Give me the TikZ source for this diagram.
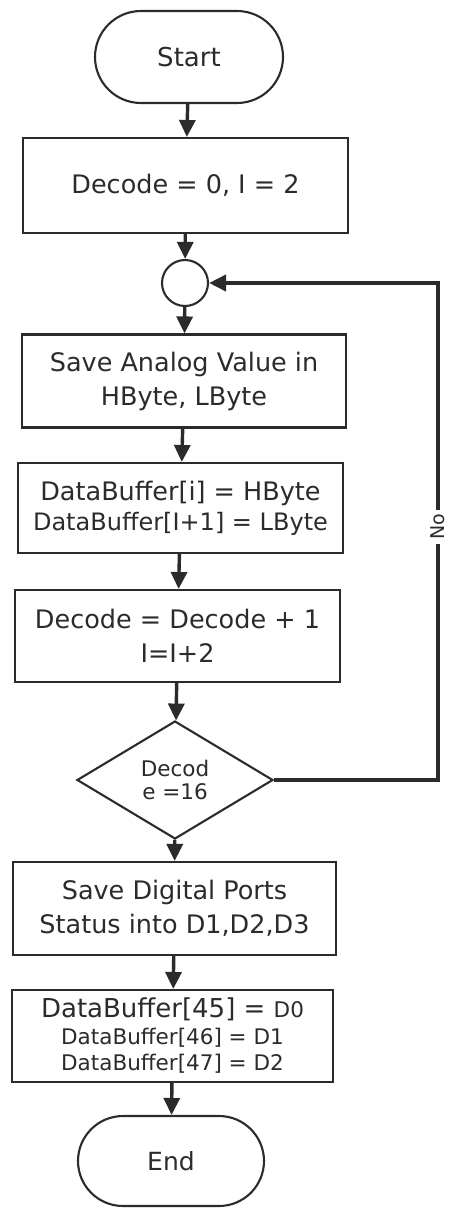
\documentclass[tikz,border=0pt]{standalone}
\usepackage{fontspec}
\setmainfont{DejaVu Sans}
\usetikzlibrary{arrows.meta,shapes.geometric,shapes.misc}
\definecolor{ink}{HTML}{2B2B2B}
\begin{document}
\begin{tikzpicture}[x=1pt,y=-1pt,
  every node/.style={text=ink, inner sep=0pt, align=center},
  outline/.style={draw=ink, line width=2.1pt},
  terminal/.style={outline, rounded rectangle, minimum width=188pt, minimum height=92pt,
    font=\fontsize{26}{32}\selectfont},
  procbox/.style={outline, rectangle, minimum width=324pt, minimum height=93pt,
    font=\fontsize{25.5}{34}\selectfont},
  joinpt/.style={outline, circle, minimum size=46pt},
  decision/.style={outline, diamond, minimum width=196pt, minimum height=118pt,
    font=\fontsize{21.5}{23}\selectfont},
  flow/.style={draw=ink, line width=3.4pt, -{Triangle[length=17pt,width=16pt]}},
  loopline/.style={draw=ink, line width=3.8pt, line join=miter}
]
\useasboundingbox (0,0) rectangle (448,1210);

% process steps, top to bottom
\node[terminal] (start) at (189,57) {Start};
\node[procbox, minimum width=325pt, minimum height=95pt] (init) at (185.5,185.5) {Decode = 0, I = 2};
\node[joinpt] (join) at (185,283) {};
\node[procbox] (save) at (184,381) {Save Analog Value in\\HByte, LByte};
\node[procbox, minimum width=325pt, minimum height=90pt,
      font=\fontsize{25.5}{30}\selectfont] (store) at (180.5,508)
  {DataBuffer[i] = HByte\\{\fontsize{24}{30}\selectfont DataBuffer[I+1] = LByte}};
\node[procbox, minimum width=325pt, minimum height=92pt] (inc) at (177.5,636)
  {Decode = Decode + 1\\I=I+2};
\node[decision] (test) at (175,780) {Decod\\e =16};
\node[procbox, minimum width=323pt] (ports) at (174.5,908.5)
  {Save Digital Ports\\Status into D1,D2,D3};
\node[procbox, minimum width=321pt, minimum height=92pt,
      font=\fontsize{21.5}{26}\selectfont] (dbuf) at (172.5,1036)
  {{\fontsize{26}{30}\selectfont DataBuffer[45] = }D0\\[1pt]DataBuffer[46] = D1\\DataBuffer[47] = D2};
\node[terminal, minimum width=186pt, minimum height=90pt] (stop) at (171,1161)
  {{\fontsize{25}{30}\selectfont End}};

% main flow
\draw[flow] (start) -- (init);
\draw[flow] (init) -- (join);
\draw[flow] (join) -- (save);
\draw[flow] (save) -- (store);
\draw[flow] (store) -- (inc);
\draw[flow] (inc) -- (test);
\draw[flow] (test) -- (ports);
\draw[flow] (ports) -- (dbuf);
\draw[flow] (dbuf) -- (stop);

% "No" branch back to the join point
\coordinate (rb) at (438,780);
\coordinate (rt) at (438,283);
\coordinate (rin) at ([xshift=16pt]join.east);
\draw[loopline] (test.east) -- (rb) -- (rt) -- (rin);
\draw[flow, line width=3.8pt] (rin) -- (join.east);
\node[fill=white, inner xsep=4pt, inner ysep=2pt, rotate=90,
      font=\fontsize{19}{21}\selectfont] (no) at (438,527) {No};
\end{tikzpicture}
\end{document}
